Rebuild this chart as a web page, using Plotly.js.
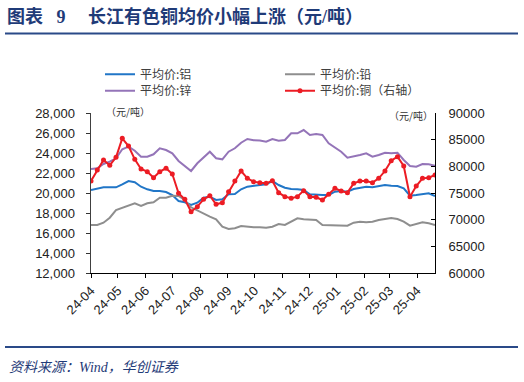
<!DOCTYPE html>
<html>
<head>
<meta charset="utf-8">
<script src="https://cdn.plot.ly/plotly-3.0.1.min.js"></script>
<style>html,body{margin:0;padding:0;background:#fff;}#chart{width:524px;height:382px;}</style>
</head>
<body>
<div id="chart"></div>
<script>
const dates = ["2024-04-01","2024-04-08","2024-04-15","2024-04-22","2024-04-29","2024-05-06","2024-05-13","2024-05-20","2024-05-27","2024-06-03","2024-06-10","2024-06-17","2024-06-24","2024-07-01","2024-07-08","2024-07-15","2024-07-22","2024-07-29","2024-08-05","2024-08-12","2024-08-19","2024-08-26","2024-09-02","2024-09-09","2024-09-16","2024-09-23","2024-09-30","2024-10-07","2024-10-14","2024-10-21","2024-10-28","2024-11-04","2024-11-11","2024-11-18","2024-11-25","2024-12-02","2024-12-09","2024-12-16","2024-12-23","2024-12-30","2025-01-06","2025-01-13","2025-01-20","2025-01-27","2025-02-03","2025-02-10","2025-02-17","2025-02-24","2025-03-03","2025-03-10","2025-03-17","2025-03-24","2025-03-31","2025-04-07","2025-04-14","2025-04-21"];

const aluminum = [20300,20400,20570,20570,20570,20870,21200,21070,20630,20370,20200,20200,20100,19800,19200,19070,18800,19030,19530,19630,19300,19370,19870,19900,20370,20630,20720,20830,20870,21200,20800,20530,20400,20370,20300,19870,19800,19800,19800,20130,20200,20130,20400,20530,20630,20570,20700,20800,20730,20700,20470,19730,19800,19900,19970,19700];

const lead = [16800,16800,17030,17530,18300,18530,18700,18970,18700,18970,19070,19530,19530,19730,19700,19300,18570,18230,17900,17630,17370,16630,16400,16470,16700,16630,16570,16570,16530,16630,16900,16800,17130,17470,17370,17370,17300,16800,16800,16800,16800,16730,17030,17130,17070,17130,17300,17430,17500,17400,17130,16730,16870,17070,16970,16800];

const zinc = [22400,22470,22900,23130,23470,24370,24630,24230,23630,23630,23870,24470,24300,23970,23200,22730,22200,22970,23570,24130,23470,23370,24130,24470,25030,25400,25280,25250,25130,25400,25230,25300,25970,25970,26300,25800,25900,25800,24970,24570,24130,23530,23630,23800,23970,23630,23800,24030,23970,24030,23300,22700,22630,22900,22870,22730];

const copper = [77250,79310,81190,80190,81690,85250,83810,81310,79500,79000,77870,79000,79630,78560,74940,73810,71500,72440,73810,74500,72880,73190,75250,77250,79120,77750,77120,76940,76810,77310,75060,74310,74000,74310,75440,74310,74190,73690,74750,75880,75380,75060,76810,77250,77250,76940,77750,79120,81060,81800,80060,74310,76310,77750,77870,78380];

const seriesNames = ["平均价:铝","平均价:铅","平均价:锌","平均价:铜（右轴）"];
const tickDates = ["2024-04-01","2024-05-01","2024-06-01","2024-07-01","2024-08-01","2024-09-01","2024-10-01","2024-11-01","2024-12-01","2025-01-01","2025-02-01","2025-03-01","2025-04-01"];
const tickLabels = ["24-04","24-05","24-06","24-07","24-08","24-09","24-10","24-11","24-12","25-01","25-02","25-03","25-04"];

const W = 524, H = 382, PL = 91, PR = 435, PT = 113, PB = 273;
const px = x => (x - PL) / (PR - PL);
const py = y => (PB - y) / (PB - PT);

const cjk = "Noto Sans CJK SC";
const latin = "Liberation Sans, Arial, " + cjk;

const traces = [
  {x: dates, y: aluminum, name: seriesNames[0], type: "scatter", mode: "lines",
   line: {color: "#2176C7", width: 2}, legend: "legend"},
  {x: dates, y: lead, name: seriesNames[1], type: "scatter", mode: "lines",
   line: {color: "#8E8E8E", width: 2}, legend: "legend2"},
  {x: dates, y: zinc, name: seriesNames[2], type: "scatter", mode: "lines",
   line: {color: "#9474B8", width: 2}, legend: "legend3"},
  {x: dates, y: copper, name: seriesNames[3], type: "scatter", mode: "lines+markers", yaxis: "y2",
   line: {color: "#EC1C24", width: 2}, marker: {color: "#EC1C24", size: 5}, legend: "legend4"}
];

const legBase = {xref: "container", yref: "container", xanchor: "left", yanchor: "top", orientation: "h",
  bgcolor: "rgba(0,0,0,0)", borderwidth: 0, font: {family: cjk, size: 12, color: "#404040"}};
const row1 = 1 - 59.8 / H, row2 = 1 - 76.2 / H;

const layout = {
  width: W, height: H,
  margin: {l: PL, r: W - PR, t: PT, b: H - PB, pad: 0},
  paper_bgcolor: "#fff", plot_bgcolor: "#fff",
  font: {family: latin, size: 13, color: "#222"},
  showlegend: true,
  title: {text: "<b>图表\u00A0\u00A0\u00A09\u00A0\u00A0\u00A0\u00A0\u00A0长江有色铜均价小幅上涨（元/吨）</b>",
    font: {family: "Liberation Serif, " + cjk, size: 18, color: "#1F3B78"},
    xref: "container", yref: "container", x: 7 / W, xanchor: "left", y: 1 - 17 / H, yanchor: "middle"},
  legend: Object.assign({}, legBase, {x: 100 / W, y: row1}),
  legend2: Object.assign({}, legBase, {x: 280 / W, y: row1}),
  legend3: Object.assign({}, legBase, {x: 100 / W, y: row2}),
  legend4: Object.assign({}, legBase, {x: 280 / W, y: row2}),
  xaxis: {type: "date", range: ["2024-04-01", "2025-04-21"], tickmode: "array",
    tickvals: tickDates, ticktext: tickLabels, tickangle: -45,
    ticks: "outside", ticklen: 4, tickcolor: "#000", showline: true, linecolor: "#000", linewidth: 1,
    showgrid: false, zeroline: false, tickfont: {family: latin, size: 13, color: "#222"}, fixedrange: true},
  yaxis: {range: [12000, 28000], tick0: 12000, dtick: 2000, tickformat: ",d",
    ticks: "outside", ticklen: 4, tickcolor: "#333", showline: true, linecolor: "#404040", linewidth: 1.5,
    showgrid: false, zeroline: false, tickfont: {family: latin, size: 13, color: "#222"},
    ticklabelstandoff: 8, fixedrange: true},
  yaxis2: {range: [60000, 90000], tick0: 60000, dtick: 5000, tickformat: "d", overlaying: "y", side: "right",
    ticks: "inside", ticklen: 4, tickcolor: "#000", showline: true, linecolor: "#000", linewidth: 1,
    showgrid: false, zeroline: false, tickfont: {family: latin, size: 13, color: "#222"},
    ticklabelstandoff: 10, fixedrange: true},
  shapes: [
    {type: "line", xref: "paper", yref: "paper", x0: px(5), x1: px(518), y0: py(33.5), y1: py(33.5),
     line: {color: "#2A4A88", width: 2}},
    {type: "line", xref: "paper", yref: "paper", x0: px(5), x1: px(518), y0: py(347), y1: py(347),
     line: {color: "#2A4A88", width: 2}}
  ],
  annotations: [
    {text: "（元/吨）", xref: "paper", yref: "paper", x: px(128), y: py(112), showarrow: false,
     xanchor: "center", yanchor: "middle", font: {family: cjk, size: 10, color: "#333"}},
    {text: "（元/吨）", xref: "paper", yref: "paper", x: px(411), y: py(115), showarrow: false,
     xanchor: "center", yanchor: "middle", font: {family: cjk, size: 10, color: "#333"}},
    {text: "<i>资料来源：Wind，华创证券</i>", xref: "paper", yref: "paper", x: px(7), y: py(367), showarrow: false,
     xanchor: "left", yanchor: "middle", font: {family: "Liberation Serif, " + cjk, size: 14, color: "#1F3B78"}}
  ]
};

Plotly.newPlot("chart", traces, layout, {displayModeBar: false, staticPlot: true});
</script>
</body>
</html>
